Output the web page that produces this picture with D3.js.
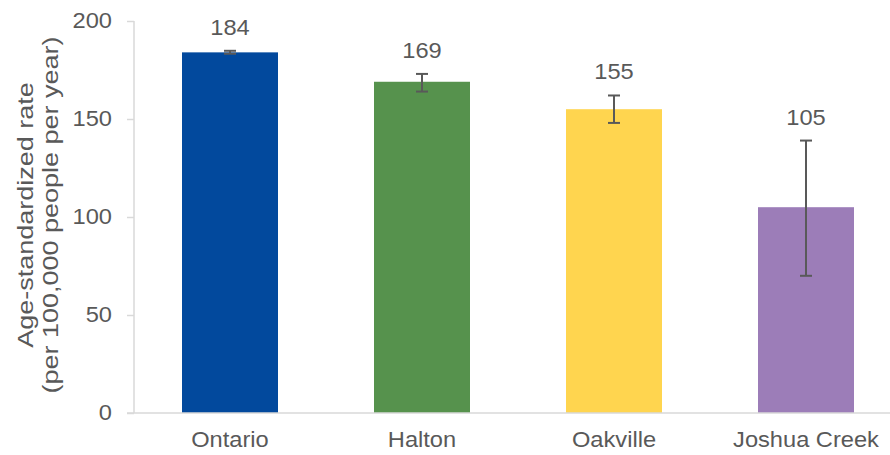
<!DOCTYPE html>
<html><head><meta charset="utf-8">
<script src="https://cdn.jsdelivr.net/npm/d3@7"></script>
<style>body{margin:0;background:#fff}svg{display:block}text{font-family:"Liberation Sans",Arial,sans-serif;fill:#595959}</style>
</head><body><svg id="c" width="890" height="455"></svg>
<script>
const categories = ["Ontario", "Halton", "Oakville", "Joshua Creek"];
const rates = [184, 169, 155, 105];
const lowerCI = [183.3, 164, 148, 70];
const upperCI = [184.8, 173, 162, 139];
const colors = ["#02499d", "#56924d", "#ffd54f", "#9c7db8"];
const yTicks = [0, 50, 100, 150, 200];

const FS = 21.5, SX = 1.1;
const svg = d3.select("#c");
const x = d3.scaleBand().domain(categories).range([134, 902]).paddingInner(0.5).paddingOuter(0.25);
const y = d3.scaleLinear().domain([0, 200]).range([413, 21]);

// y axis
const ya = svg.append("g").attr("transform", "translate(134,0)")
  .call(d3.axisLeft(y).tickValues(yTicks).tickSize(7).tickPadding(15));
ya.select(".domain").attr("stroke", "#d9d9d9").attr("stroke-width", 1.5).attr("d", `M0,${y(200)}V${y(0)}`);
ya.selectAll(".tick line").attr("stroke", "#d9d9d9").attr("stroke-width", 1.5);
ya.selectAll(".tick text").attr("font-size", FS).attr("fill", "#595959")
  .attr("font-family", "Liberation Sans, Arial, sans-serif")
  .attr("x", -22 / SX).attr("transform", `scale(${SX},1)`);

// bars
svg.append("g").selectAll("rect").data(categories).join("rect")
  .attr("x", d => x(d)).attr("width", x.bandwidth())
  .attr("y", (d, i) => y(rates[i])).attr("height", (d, i) => y(0) - y(rates[i]))
  .attr("fill", (d, i) => colors[i]);

// x axis
const xa = svg.append("g").attr("transform", `translate(0,${y(0)})`)
  .call(d3.axisBottom(x).tickSize(0).tickPadding(19));
xa.select(".domain").attr("stroke", "#d9d9d9").attr("stroke-width", 1.5).attr("d", "M127,0H902");
xa.selectAll(".tick text").attr("font-size", FS).attr("fill", "#595959")
  .attr("font-family", "Liberation Sans, Arial, sans-serif")
  .attr("transform", `scale(${SX},1)`);

// error bars
const eg = svg.append("g").attr("stroke", "#595959").attr("stroke-width", 2);
categories.forEach((c, i) => {
  const cx = x(c) + x.bandwidth() / 2;
  eg.append("line").attr("x1", cx).attr("x2", cx).attr("y1", y(lowerCI[i])).attr("y2", y(upperCI[i]));
  eg.append("line").attr("x1", cx - 6).attr("x2", cx + 6).attr("y1", y(lowerCI[i])).attr("y2", y(lowerCI[i]));
  eg.append("line").attr("x1", cx - 6).attr("x2", cx + 6).attr("y1", y(upperCI[i])).attr("y2", y(upperCI[i]));
});

// data labels
svg.append("g").selectAll("text").data(categories).join("text")
  .attr("transform", (d, i) => `translate(${x(d) + x.bandwidth() / 2},${y(upperCI[i]) - 16}) scale(${SX},1)`)
  .attr("text-anchor", "middle").attr("font-size", FS)
  .text((d, i) => rates[i]);

// y title
const t = svg.append("text").attr("transform", "translate(33,215) rotate(-90) scale(1.2,1)")
  .attr("text-anchor", "middle").attr("font-size", 22.5);
t.append("tspan").attr("x", 0).attr("dy", 0).text("Age-standardized rate");
t.append("tspan").attr("x", 0).attr("dy", 25).text("(per 100,000 people per year)");
</script></body></html>
